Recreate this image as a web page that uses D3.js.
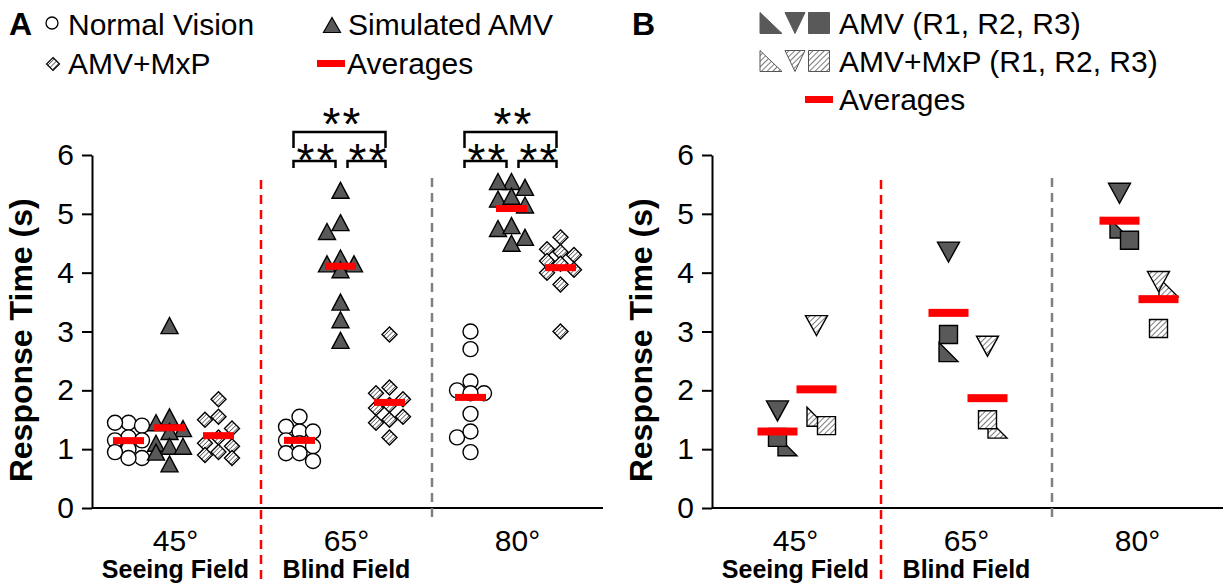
<!DOCTYPE html>
<html>
<head>
<meta charset="utf-8">
<script src="https://cdn.jsdelivr.net/npm/d3@7/dist/d3.min.js"></script>
<style>
  body { margin: 0; background: #fff; }
  svg { font-family: "Liberation Sans", Arial, sans-serif; }
</style>
</head>
<body>
<svg id="chart" width="1225" height="585"></svg>
<script>
// categories and field labels
const categories = ["45°", "65°", "80°"];
const fieldNames = ["Seeing Field", "Blind Field"];
const fieldUnder = ["45°", "65°"];
const yTicks = [0, 1, 2, 3, 4, 5, 6];

// panel A: one array per angle (45, 65, 80)
const groupsA = ["Normal Vision", "Simulated AMV", "AMV+MxP"];
const normalVision = [
  [1.45, 1.45, 1.4, 1.2, 1.15, 1.15, 1.0, 0.95, 0.85, 0.85],
  [1.55, 1.38, 1.3, 1.3, 1.15, 1.1, 1.05, 0.93, 0.93, 0.8],
  [3.0, 2.7, 2.15, 1.95, 2.0, 1.95, 1.6, 1.2, 1.3, 0.95]
];
const simulatedAMV = [
  [3.1, 1.55, 1.45, 1.35, 1.3, 1.1, 1.05, 1.05, 0.95, 0.75],
  [5.4, 4.85, 4.7, 4.25, 4.15, 4.15, 4.05, 3.5, 3.2, 2.85],
  [5.55, 5.55, 5.45, 5.25, 5.3, 5.15, 4.75, 4.8, 4.6, 4.5]
];
const amvMxP = [
  [1.85, 1.55, 1.5, 1.35, 1.2, 1.1, 1.05, 0.95, 0.85, 0.9],
  [2.95, 2.05, 1.95, 1.85, 1.75, 1.7, 1.55, 1.5, 1.45, 1.2],
  [4.6, 4.4, 4.35, 4.3, 4.2, 4.15, 4.05, 4.0, 3.8, 3.0]
];
const sigCats = ["65°", "80°"];
const sigLabel = "**";

// panel B: runs R1, R2, R3 per angle
const runs = ["R1", "R2", "R3"];
const groupsB = ["AMV", "AMV+MxP"];
const amvRuns = [
  [1.05, 1.65, 1.2],
  [2.65, 4.35, 2.95],
  [4.75, 5.35, 4.55]
];
const mxpRuns = [
  [1.55, 3.1, 1.4],
  [1.35, 2.75, 1.5],
  [3.75, 3.85, 3.05]
];

const svg = d3.select("#chart");
const red = "#ff0000";
const dark = "#595959";

// hatch patterns
const defs = svg.append("defs");
function hatch(id, gap, w) {
  defs.append("pattern")
    .attr("id", id)
    .attr("patternUnits", "userSpaceOnUse")
    .attr("width", gap).attr("height", gap)
    .attr("patternTransform", "rotate(45)")
    .call(p => p.append("rect").attr("width", gap).attr("height", gap).attr("fill", "#fff"))
    .append("line")
    .attr("x1", 0).attr("y1", 0).attr("x2", 0).attr("y2", gap)
    .attr("stroke", "#333").attr("stroke-width", w);
}
hatch("hatchA", 3.2, 1.3);
hatch("hatchB", 4, 1.3);

// marker paths, centred on 0,0
const shape = {
  up: (w, h) => `M0,${-h / 2}L${w / 2},${h / 2}L${-w / 2},${h / 2}Z`,
  down: (w, h) => `M${-w / 2},${-h / 2}L${w / 2},${-h / 2}L0,${h / 2}Z`,
  right: (w, h) => `M${-w / 2},${-h / 2}L${w / 2},${h / 2}L${-w / 2},${h / 2}Z`,
  square: (w) => `M${-w / 2},${-w / 2}h${w}v${w}h${-w}Z`,
  diamond: (w) => `M0,${-w / 2}L${w / 2},0L0,${w / 2}L${-w / 2},0Z`
};

const y = d3.scaleLinear().domain([0, 6]).range([508, 155]);

// simple beeswarm over a few columns: first free column, else the least crowded
function dodge(vals, step, minDist, cols) {
  const placed = [];
  const out = new Array(vals.length).fill(0);
  vals.map((v, i) => ({ v, i }))
    .sort((a, b) => b.v - a.v)
    .forEach(p => {
      const py = y(p.v);
      let best = null, bestD = -1;
      for (const k of cols) {
        const px = k * step;
        const dmin = d3.min(placed, q => Math.hypot(q.x - px, q.y - py));
        const d = dmin === undefined ? Infinity : dmin;
        if (d >= minDist) { best = px; break; }
        if (d > bestD) { bestD = d; best = px; }
      }
      placed.push({ x: best, y: py });
      out[p.i] = best;
    });
  return out;
}

function drawFrame(g, x0, x1) {
  const x = d3.scaleBand().domain(categories).range([x0 - 2, x1]);

  // y axis
  g.append("g")
    .attr("transform", `translate(${x0},0)`)
    .call(d3.axisLeft(y).tickValues(yTicks).tickFormat(d3.format("d"))
      .tickSize(10).tickSizeOuter(0).tickPadding(8))
    .call(a => a.select(".domain").attr("stroke", "#000").attr("stroke-width", 2))
    .call(a => a.selectAll(".tick line").attr("stroke", "#000").attr("stroke-width", 2))
    .call(a => a.selectAll(".tick text").attr("font-size", 30).attr("fill", "#000")
      .attr("font-family", "Liberation Sans, Arial, sans-serif"));

  // x axis line
  g.append("line")
    .attr("x1", x0).attr("x2", x1)
    .attr("y1", y(0)).attr("y2", y(0))
    .attr("stroke", "#000").attr("stroke-width", 2);

  g.selectAll(".cat").data(categories).join("text")
    .attr("x", d => x(d) + x.bandwidth() / 2)
    .attr("y", 551)
    .attr("text-anchor", "middle")
    .attr("font-size", 30)
    .text(d => d);

  g.selectAll(".field").data(fieldNames).join("text")
    .attr("x", (d, i) => x(fieldUnder[i]) + x.bandwidth() / 2)
    .attr("y", 578)
    .attr("text-anchor", "middle")
    .attr("font-size", 25)
    .attr("font-weight", "bold")
    .text(d => d);

  // separators
  g.append("line")
    .attr("x1", x(categories[1])).attr("x2", x(categories[1]))
    .attr("y1", 180).attr("y2", 585)
    .attr("stroke", red).attr("stroke-width", 2.5).attr("stroke-dasharray", "9,6");
  g.append("line")
    .attr("x1", x(categories[2])).attr("x2", x(categories[2]))
    .attr("y1", 178).attr("y2", 520)
    .attr("stroke", "#808080").attr("stroke-width", 2.5).attr("stroke-dasharray", "9,6");

  // y title
  g.append("text")
    .attr("transform", `translate(${x0 - 60},${y(2.85)}) rotate(-90)`)
    .attr("text-anchor", "middle")
    .attr("font-size", 32)
    .attr("font-weight", "bold")
    .text("Response Time (s)");

  return x;
}

function avgBar(g, cx, v, w, h) {
  g.append("rect")
    .attr("x", cx - w / 2).attr("y", y(v) - h / 2)
    .attr("width", w).attr("height", h)
    .attr("fill", red);
}

// ---------- panel A ----------
const gA = svg.append("g");
const xA = drawFrame(gA, 92, 603);
const offA = d3.scaleOrdinal().domain(groupsA).range([-47, -6, 43]);
const seriesA = [
  { name: groupsA[0], data: normalVision },
  { name: groupsA[1], data: simulatedAMV },
  { name: groupsA[2], data: amvMxP }
];

categories.forEach((c, ci) => {
  const cx = xA(c) + xA.bandwidth() / 2;
  seriesA.forEach(s => {
    const vals = s.data[ci];
    const gx = cx + offA(s.name);
    const dx = dodge(vals, 13.5, 13, [0, -1, 1]);
    const pts = gA.append("g").selectAll("path").data(vals).join("path")
      .attr("transform", (d, i) => `translate(${gx + dx[i]},${y(d)})`)
      .attr("stroke", "#000").attr("stroke-width", 1.4);
    if (s.name === groupsA[0]) pts.attr("d", d3.symbol(d3.symbolCircle, Math.PI * 7.5 * 7.5)).attr("fill", "#fff");
    if (s.name === groupsA[1]) pts.attr("d", shape.up(17, 16)).attr("fill", dark);
    if (s.name === groupsA[2]) pts.attr("d", shape.diamond(15)).attr("fill", "url(#hatchA)");
    avgBar(gA, gx, d3.mean(vals), 31, 7);
  });
});

// significance brackets
sigCats.forEach(c => {
  const cx = xA(c) + xA.bandwidth() / 2;
  const a = cx + offA(groupsA[0]) - 6;
  const b = cx + offA(groupsA[1]);
  const e = cx + offA(groupsA[2]) - 4;
  const bk = gA.append("g").attr("fill", "none").attr("stroke", "#000").attr("stroke-width", 2.5);
  bk.append("path").attr("d", `M${a},148V132H${e}V148`);
  bk.append("path").attr("d", `M${a},168V161H${b - 5}V168`);
  bk.append("path").attr("d", `M${b + 7},168V161H${e}V168`);
  const t = [
    { x: (a + e) / 2 + 3, y: 140 },
    { x: (a + b - 5) / 2 + 2, y: 176 },
    { x: (b + 7 + e) / 2 + 2, y: 176 }
  ];
  gA.append("g").selectAll("text").data(t).join("text")
    .attr("x", d => d.x).attr("y", d => d.y)
    .attr("text-anchor", "middle")
    .attr("font-size", 46)
    .attr("letter-spacing", 2)
    .text(sigLabel);
});

// legend A
const lgA = svg.append("g").attr("font-size", 30);
lgA.append("text").attr("x", 9).attr("y", 35).attr("font-weight", "bold").attr("font-size", 32).text("A");
lgA.append("path").attr("d", d3.symbol(d3.symbolCircle, Math.PI * 36)).attr("transform", "translate(52,23)")
  .attr("fill", "#fff").attr("stroke", "#000").attr("stroke-width", 1.3);
lgA.append("text").attr("x", 68).attr("y", 35).text(groupsA[0]);
lgA.append("path").attr("d", shape.up(17, 15)).attr("transform", "translate(332,25)")
  .attr("fill", dark).attr("stroke", "#000").attr("stroke-width", 1.2);
lgA.append("text").attr("x", 348).attr("y", 35).text(groupsA[1]);
lgA.append("path").attr("d", shape.diamond(13)).attr("transform", "translate(53,64)")
  .attr("fill", "url(#hatchA)").attr("stroke", "#000").attr("stroke-width", 1.2);
lgA.append("text").attr("x", 68).attr("y", 74).text(groupsA[2]);
lgA.append("rect").attr("x", 317).attr("y", 60).attr("width", 28).attr("height", 7).attr("fill", red);
lgA.append("text").attr("x", 347).attr("y", 74).text("Averages");

// ---------- panel B ----------
const gB = svg.append("g");
const xB = drawFrame(gB, 712, 1223);
const offB = d3.scaleOrdinal().domain(groupsB).range([-18, 21]);
const runShape = { R1: "right", R2: "down", R3: "square" };
const seriesB = [
  { name: groupsB[0], data: amvRuns, fill: dark },
  { name: groupsB[1], data: mxpRuns, fill: "url(#hatchB)" }
];

categories.forEach((c, ci) => {
  const cx = xB(c) + xB.bandwidth() / 2;
  seriesB.forEach(s => {
    const vals = s.data[ci];
    const gx = cx + offB(s.name);
    const dx = dodge(vals, 10, 14, [0, 1, -1]);
    gB.append("g").selectAll("path").data(vals).join("path")
      .attr("transform", (d, i) => `translate(${gx + dx[i]},${y(d)})`)
      .attr("d", (d, i) => {
        const k = runShape[runs[i]];
        if (k === "square") return shape.square(18);
        return k === "down" ? shape.down(22, 20) : shape.right(19, 19);
      })
      .attr("fill", s.fill)
      .attr("stroke", "#000").attr("stroke-width", 1.4);
    avgBar(gB, gx, d3.mean(vals), 40, 8);
  });
});

// legend B
const lgB = svg.append("g").attr("font-size", 30);
lgB.append("text").attr("x", 632).attr("y", 35).attr("font-weight", "bold").attr("font-size", 32).text("B");
[{ fill: dark, yy: 23, label: "AMV (R1, R2, R3)" }, { fill: "url(#hatchB)", yy: 61, label: "AMV+MxP (R1, R2, R3)" }]
  .forEach(r => {
    const st = r.fill === dark ? dark : "#555";
    lgB.append("path").attr("d", shape.right(22, 21)).attr("transform", `translate(771,${r.yy})`)
      .attr("fill", r.fill).attr("stroke", st).attr("stroke-width", 1);
    lgB.append("path").attr("d", shape.down(20, 21)).attr("transform", `translate(795,${r.yy})`)
      .attr("fill", r.fill).attr("stroke", st).attr("stroke-width", 1);
    lgB.append("path").attr("d", shape.square(21)).attr("transform", `translate(819,${r.yy})`)
      .attr("fill", r.fill).attr("stroke", st).attr("stroke-width", 1);
    lgB.append("text").attr("x", 839).attr("y", r.yy + 11).text(r.label);
  });
lgB.append("rect").attr("x", 805).attr("y", 96).attr("width", 28).attr("height", 7).attr("fill", red);
lgB.append("text").attr("x", 839).attr("y", 110).text("Averages");
</script>
</body>
</html>
